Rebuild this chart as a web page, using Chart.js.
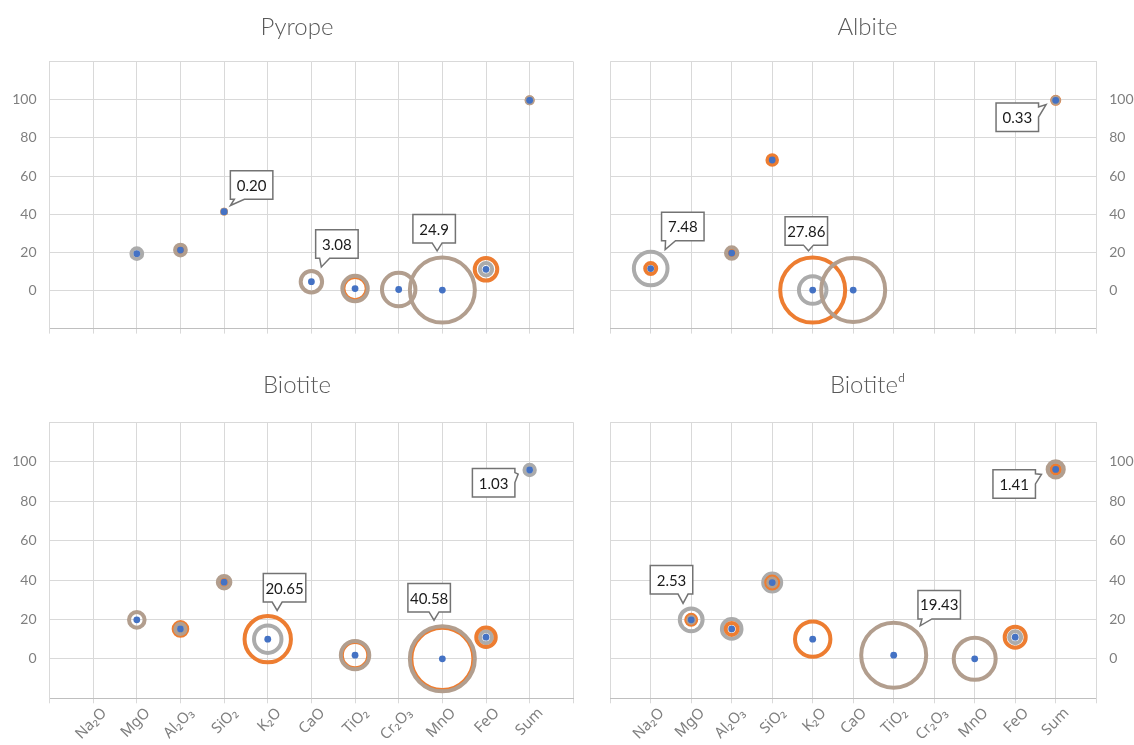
<!DOCTYPE html>
<html>
<head>
<meta charset="utf-8">
<script src="https://cdn.jsdelivr.net/npm/chart.js@4.4.1/dist/chart.umd.min.js"></script>
<style>
  body { margin: 0; background: #fff; width: 1134px; height: 745px; overflow: hidden; position: relative; }
  .panel { position: absolute; }
</style>
</head>
<body>
<div class="panel" style="left:0;top:0;width:594px;height:350px"><canvas id="pyrope"></canvas></div>
<div class="panel" style="left:564px;top:0;width:570px;height:350px"><canvas id="albite"></canvas></div>
<div class="panel" style="left:0;top:350px;width:594px;height:395px"><canvas id="biotite"></canvas></div>
<div class="panel" style="left:564px;top:350px;width:570px;height:395px"><canvas id="biotiteD"></canvas></div>
<script>
// categories along the x axis (positions 1..11)
const categories = ['Na₂O', 'MgO', 'Al₂O₃', 'SiO₂', 'K₂O', 'CaO', 'TiO₂', 'Cr₂O₃', 'MnO', 'FeO', 'Sum'];
const yTickValues = [0, 20, 40, 60, 80, 100];

// Pyrope: value (blue dot) and bubble sizes of the three rings
const pyropeValue  = [null, 19.3, 21.2, 41.3, null, 4.6, 1.0, 0.5, 0.2, 11.1, 99.7];
const pyropeOrange = [null, null, 0.45, 0.08, null, null, 3.2, null, null, 3.0, 0.20];
const pyropeGray   = [null, 0.68, null, null, null, null, null, null, null, 0.9, null];
const pyropeBrown  = [null, null, 0.68, 0.08, null, 2.7, 3.8, 6.6, 24.9, null, 0.22];
const pyropeLabels = ['0.20', '3.08', '24.9'];

// Albite
const albiteValue  = [11.5, null, 19.6, 68.4, 0.2, 0.2, null, null, null, null, 99.7];
const albiteOrange = [0.8, null, 0.55, 0.6, 27.86, null, null, null, null, null, 0.33];
const albiteGray   = [7.48, null, null, null, 5.0, null, null, null, null, null, null];
const albiteBrown  = [null, null, 0.86, null, null, 27.0, null, null, null, null, 0.25];
const albiteLabels = ['7.48', '27.86', '0.33'];

// Biotite
const biotiteValue  = [null, 19.8, 15.2, 38.9, 10.0, null, 1.9, null, 0.0, 11.0, 95.8];
const biotiteOrange = [null, null, 1.78, 1.16, 20.65, null, 6.7, null, 37.0, 3.65, null];
const biotiteGray   = [null, null, null, 0.78, 7.24, null, null, null, null, 1.37, 1.03];
const biotiteBrown  = [null, 2.34, 1.0, 1.52, null, null, 7.77, null, 40.58, null, null];
const biotiteLabels = ['20.65', '40.58', '1.03'];

// Biotite (d)
const biotiteDValue  = [null, 19.8, 15.2, 38.7, 10.0, null, 1.9, null, 0.0, 11.0, 96.1];
const biotiteDOrange = [null, 0.46, 0.66, 0.66, 5.76, null, null, null, null, 2.03, 0.29];
const biotiteDGray   = [null, 2.4, 1.77, 1.49, null, null, null, null, null, 0.66, 0.78];
const biotiteDBrown  = [null, 0.17, null, 0.29, null, null, 19.43, null, 8.11, null, 1.2];
const biotiteDLabels = ['2.53', '19.43', '1.41'];

const FONT = "Lato, 'Noto Sans', sans-serif";
const BLUE = '#4472c4', ORANGE = '#ed7d31', GRAY = '#ababab', BROWN = '#b29e8e';
const R_MAX = 32.5;
const RING_W = 4;

function radius(size, maxSize) {
  return R_MAX * Math.sqrt(size / maxSize);
}

function ringDataset(values, sizes, maxSize, color) {
  const pts = [];
  sizes.forEach((s, i) => {
    if (s != null && values[i] != null) pts.push({ x: i + 1, y: values[i], r: radius(s, maxSize) });
  });
  return { data: pts, backgroundColor: 'rgba(255,255,255,0)', borderColor: color, borderWidth: RING_W, hoverRadius: 0 };
}

// callout boxes: which point, and where the box sits relative to it (px)
const calloutSpots = {
  pyrope:   [{ i: 3, dx: 27.5, dy: -26.7 }, { i: 5, dx: 25.5, dy: -37.7 }, { i: 8, dx: -8.2, dy: -61.4 }],
  albite:   [{ i: 0, dx: 32.1, dy: -42 }, { i: 4, dx: -6.4, dy: -59.2 }, { i: 10, dx: -38.4, dy: 17 }],
  biotite:  [{ i: 4, dx: 16.8, dy: -51.3 }, { i: 8, dx: -13.2, dy: -61.2 }, { i: 10, dx: -36, dy: 12.8 }],
  biotiteD: [{ i: 1, dx: -19.7, dy: -40 }, { i: 6, dx: 45.5, dy: -50.5 }, { i: 10, dx: -41.5, dy: 14.7 }]
};

const calloutPlugin = {
  id: 'callouts',
  afterDatasetsDraw(chart, args, opts) {
    const ctx = chart.ctx;
    const xs = chart.scales.x, ys = chart.scales.y;
    const W = 42.5, H = 28.5;
    opts.spots.forEach((spot, k) => {
      const i = spot.i;
      const px = xs.getPixelForValue(i + 1);
      const py = ys.getPixelForValue(opts.values[i]);
      let rr = 3.4;
      opts.rings.forEach(arr => {
        if (arr[i] != null) rr = Math.max(rr, radius(arr[i], opts.maxSize) + RING_W / 2);
      });
      const cx = px + spot.dx, cy = py + spot.dy;
      const L = cx - W / 2, R = cx + W / 2, T = cy - H / 2, B = cy + H / 2;
      const d = Math.hypot(spot.dx, spot.dy);
      const tx = px + spot.dx / d * (rr + 5), ty = py + spot.dy / d * (rr + 5);
      const clamp = (v, a, b) => Math.max(a, Math.min(b, v));
      let pts;
      if (ty > B) {
        const bx = clamp(tx, L + 9, R - 9);
        pts = [[L, T], [R, T], [R, B], [bx + 5, B], [tx, ty], [bx - 5, B], [L, B]];
      } else if (ty < T) {
        const bx = clamp(tx, L + 9, R - 9);
        pts = [[L, T], [bx - 5, T], [tx, ty], [bx + 5, T], [R, T], [R, B], [L, B]];
      } else if (tx > R) {
        const by = clamp(ty, T + 9, B - 9);
        pts = [[L, T], [R, T], [R, by - 5], [tx, ty], [R, by + 5], [R, B], [L, B]];
      } else {
        const by = clamp(ty, T + 9, B - 9);
        pts = [[L, T], [R, T], [R, B], [L, B], [L, by + 5], [tx, ty], [L, by - 5]];
      }
      ctx.save();
      ctx.beginPath();
      pts.forEach((p, n) => n ? ctx.lineTo(p[0], p[1]) : ctx.moveTo(p[0], p[1]));
      ctx.closePath();
      ctx.fillStyle = '#fff';
      ctx.fill();
      ctx.lineWidth = 1.5;
      ctx.strokeStyle = '#737373';
      ctx.stroke();
      ctx.fillStyle = '#1a1a1a';
      ctx.font = '15px ' + FONT;
      ctx.textAlign = 'center';
      ctx.textBaseline = 'middle';
      ctx.fillText(opts.labels[k], cx, cy + 1);
      ctx.restore();
    });
  }
};

function makeChart(id, title, values, orange, gray, brown, labels, side, row) {
  const maxSize = Math.max(...[orange, gray, brown].flat().filter(v => v != null));
  // axis widths: y holds the tick labels, y2 is an empty spacer on the other side
  const geo = side === 'left'
    ? { padL: 0, yWidth: 49.5, y2Width: 20.7, y2Side: 'right' }
    : { padL: 37, yWidth: 37.8, y2Width: 9.2, y2Side: 'left' };
  const rowGeo = row === 'top'
    ? { titleTop: 12.5, titleBottom: 20.3, xHeight: 12, showX: false }
    : { titleTop: 21, titleBottom: 22.5, xHeight: 46.7, showX: true };

  const blue = [];
  values.forEach((v, i) => { if (v != null) blue.push({ x: i + 1, y: v, r: 3.4 }); });

  // Chart.js paints the first dataset on top, so the dot comes first, grey last
  new Chart(document.getElementById(id), {
    type: 'bubble',
    data: {
      datasets: [
        { data: blue, backgroundColor: BLUE, borderWidth: 0, hoverRadius: 0 },
        ringDataset(values, brown, maxSize, BROWN),
        ringDataset(values, orange, maxSize, ORANGE),
        ringDataset(values, gray, maxSize, GRAY)
      ]
    },
    plugins: [calloutPlugin],
    options: {
      responsive: true,
      maintainAspectRatio: false,
      animation: false,
      events: [],
      clip: false,
      layout: { autoPadding: false, padding: { left: geo.padL, right: 0, top: 0, bottom: 0 } },
      plugins: {
        legend: { display: false },
        tooltip: { enabled: false },
        title: {
          display: true,
          text: title,
          color: '#595959',
          font: { family: FONT, size: 24, weight: 300 },
          padding: { top: rowGeo.titleTop, bottom: rowGeo.titleBottom }
        },
        callouts: { spots: calloutSpots[id], labels: labels, values: values, rings: [orange, gray, brown], maxSize: maxSize }
      },
      scales: {
        x: {
          type: 'linear',
          min: 0,
          max: 12,
          ticks: {
            stepSize: 1,
            autoSkip: false,
            minRotation: 45,
            maxRotation: 45,
            display: rowGeo.showX,
            padding: 1,
            labelOffset: 11,
            color: '#7f7f7f',
            font: { family: "'Noto Sans', Lato, sans-serif", size: 15 },
            callback: v => categories[v - 1] || ''
          },
          grid: { color: '#d9d9d9', tickLength: 5 },
          border: { color: '#bfbfbf' },
          afterFit: s => { s.height = rowGeo.xHeight; }
        },
        y: {
          position: side,
          min: -20,
          max: 120,
          ticks: {
            stepSize: 20,
            padding: 13,
            color: '#7f7f7f',
            font: { family: FONT, size: 14 },
            callback: v => yTickValues.includes(v) ? v : ''
          },
          grid: { color: '#d9d9d9', drawTicks: false },
          border: { color: '#d9d9d9' },
          afterFit: s => { s.width = geo.yWidth; }
        },
        y2: {
          position: geo.y2Side,
          ticks: { display: false },
          grid: { display: false, drawTicks: false },
          border: { display: false },
          afterFit: s => { s.width = geo.y2Width; }
        }
      }
    }
  });
}

makeChart('pyrope', 'Pyrope', pyropeValue, pyropeOrange, pyropeGray, pyropeBrown, pyropeLabels, 'left', 'top');
makeChart('albite', 'Albite', albiteValue, albiteOrange, albiteGray, albiteBrown, albiteLabels, 'right', 'top');
makeChart('biotite', 'Biotite', biotiteValue, biotiteOrange, biotiteGray, biotiteBrown, biotiteLabels, 'left', 'bottom');
makeChart('biotiteD', 'Biotiteᵈ', biotiteDValue, biotiteDOrange, biotiteDGray, biotiteDBrown, biotiteDLabels, 'right', 'bottom');
</script>
</body>
</html>
